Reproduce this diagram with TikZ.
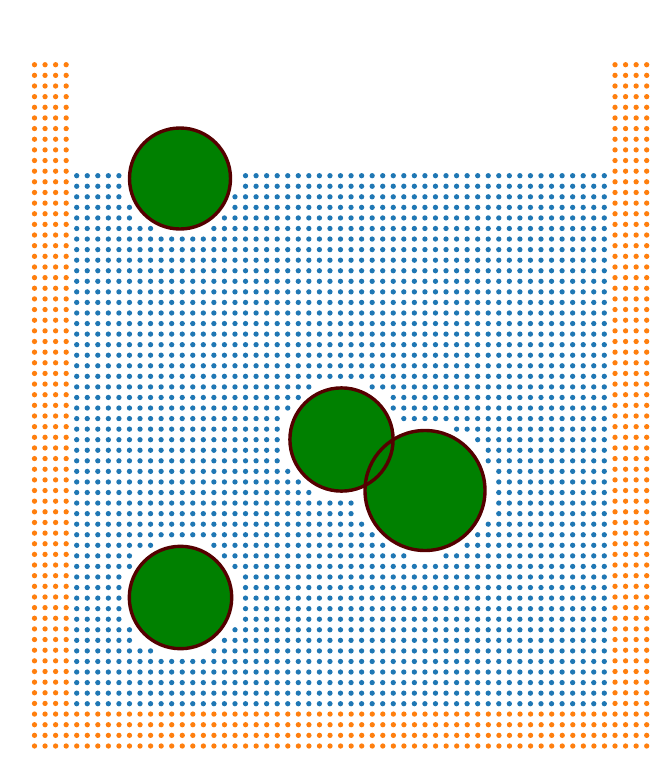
\documentclass[tikz,border=0pt]{standalone}
\definecolor{fluid}{HTML}{1F77B4}
\definecolor{wall}{HTML}{FF7F0E}
\definecolor{body}{HTML}{008000}
\definecolor{rim}{HTML}{550000}
\tikzset{
  walldot/.style={fill=wall},
  fluiddot/.style={fill=fluid},
  bodyfill/.style={fill=body},
  bodyrim/.style={draw=rim, line width=3.4pt}
}
\newcommand{\dotr}{2.65}
\begin{document}
\begin{tikzpicture}[x=1pt,y=-1pt]
\useasboundingbox (0,0) rectangle (669,771);
% left and right walls
\foreach \i in {0,1,2,3,55,56,57,58}{
  \foreach \j in {0,...,64}{
    \path[walldot] ({34.5+\i*10.555},{746-\j*10.645}) circle[radius=\dotr];
  }
}
% bottom wall
\foreach \i in {4,...,54}{
  \foreach \j in {0,...,3}{
    \path[walldot] ({34.5+\i*10.555},{746-\j*10.645}) circle[radius=\dotr];
  }
}
% fluid particles
\foreach \i in {0,...,50}{
  \foreach \k in {0,...,50}{
    \pgfmathsetmacro\px{76.7+\i*10.552}
    \pgfmathsetmacro\py{175.7+\k*10.56}
    \pgfmathtruncatemacro\keep{(veclen(\px-180,\py-178.5)>57) && (veclen(\px-341.5,\py-439.5)>59) && (veclen(\px-425,\py-490.5)>68.5) && (veclen(\px-180.5,\py-597.5)>59) ? 1 : 0}
    \ifnum\keep=1
      \path[fluiddot] (\px,\py) circle[radius=\dotr];
    \fi
  }
}
% bodies
\coordinate (A) at (180,178.5);
\coordinate (B) at (341.5,439.5);
\coordinate (C) at (425,490.5);
\coordinate (D) at (180.5,597.5);
\path[bodyfill] (A) circle[radius=50.5];
\path[bodyfill] (B) circle[radius=51.6];
\path[bodyfill] (C) circle[radius=60];
\path[bodyfill] (D) circle[radius=51.2];
\path[bodyrim] (A) circle[radius=50.5];
\path[bodyrim] (B) circle[radius=51.6];
\path[bodyrim] (C) circle[radius=60];
\path[bodyrim] (D) circle[radius=51.2];
\end{tikzpicture}
\end{document}
